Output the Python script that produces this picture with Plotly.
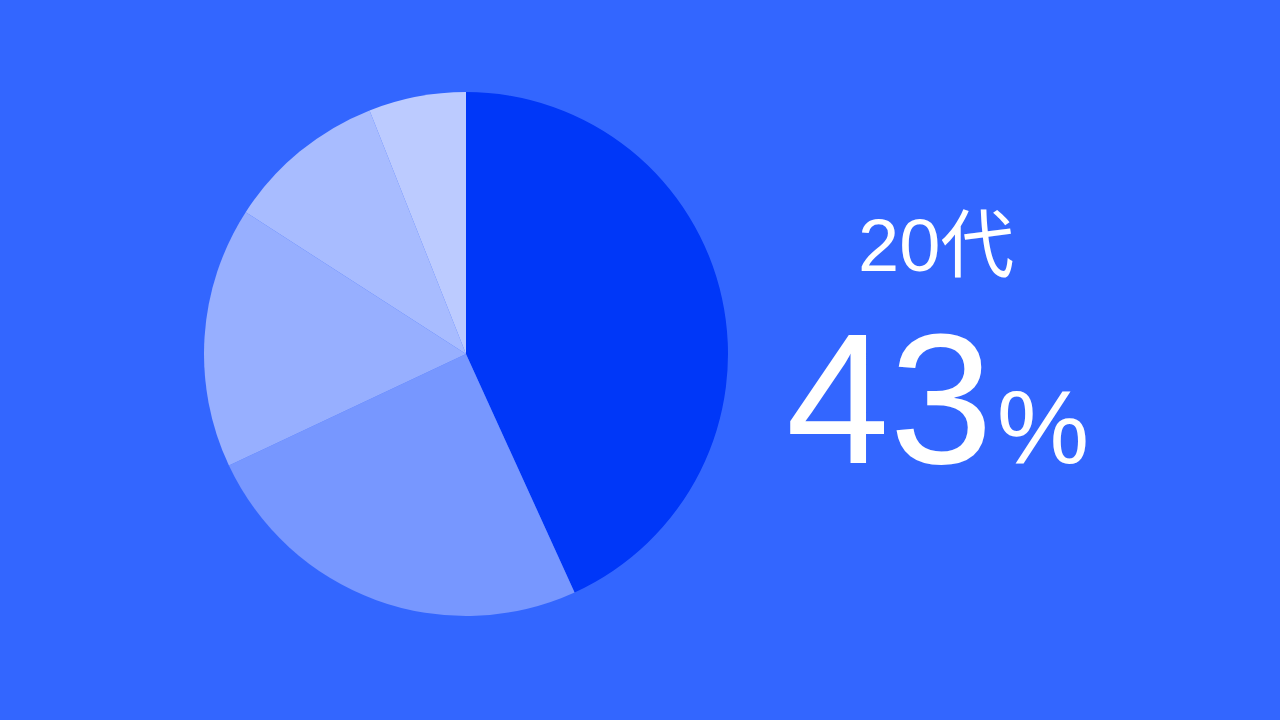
import plotly.graph_objects as go

labels = ["20代", "30代", "40代", "50代", "60代以上"]
values = [43.2, 24.8, 16.1, 9.9, 6.0]
colors = ["#0037F8", "#7797FF", "#97AFFF", "#A8BCFF", "#BCCBFF"]
headline_label = "20代"
headline_value = "43"

W, H = 1280, 720
cx, cy, r = 466, 354, 262

fig = go.Figure(go.Pie(
    labels=labels, values=values, sort=False, direction="clockwise", rotation=0,
    marker=dict(colors=colors, line=dict(width=0)),
    textinfo="none", hoverinfo="label+percent",
    domain=dict(x=[(cx - r) / W, (cx + r) / W], y=[1 - (cy + r) / H, 1 - (cy - r) / H]),
    showlegend=False,
))

fig.add_annotation(
    x=936 / W, y=1 - 245 / H, xref="paper", yref="paper", xanchor="center", yanchor="middle",
    text=headline_label, showarrow=False,
    font=dict(family="Liberation Sans, Noto Sans CJK JP", size=74, color="white"),
)
fig.add_annotation(
    x=937 / W, y=1 - 398 / H, xref="paper", yref="paper", xanchor="center", yanchor="middle",
    text=(f"{headline_value}<span style='font-size:14px'> </span>"
          "<span style='font-size:104px'>%</span>"),
    showarrow=False,
    font=dict(family="Liberation Sans, Noto Sans CJK JP", size=186, color="white"),
)

fig.update_layout(
    width=W, height=H, margin=dict(l=0, r=0, t=0, b=0),
    paper_bgcolor="#3366FF", plot_bgcolor="#3366FF",
)
fig.write_html("out.html")
